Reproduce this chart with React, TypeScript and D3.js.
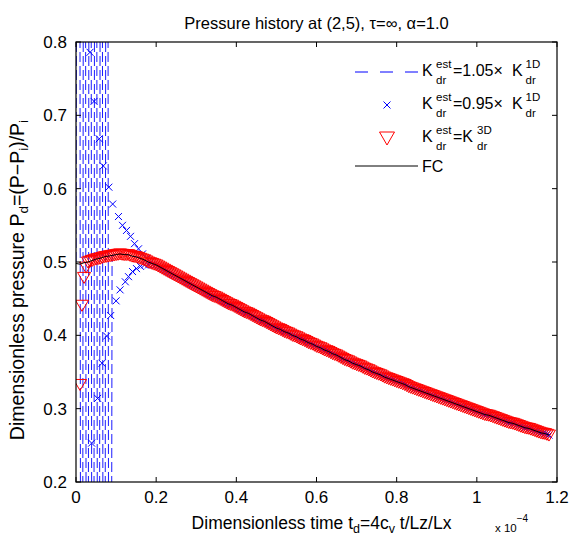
import * as React from "react";
import * as d3 from "d3";

// time grid step for the smooth part of every series (x 1e-4)
const curveStep = 0.005;

// FC solution at t = 0, 0.005, ... 1.18
const curveValues = [
  0.498, 0.4975, 0.497, 0.498, 0.499, 0.4995, 0.5, 0.501, 0.502, 0.503,
  0.504, 0.5045, 0.505, 0.506, 0.507, 0.5075, 0.508, 0.5085, 0.509, 0.5095,
  0.51, 0.5105, 0.511, 0.5105, 0.51, 0.51, 0.51, 0.509, 0.508, 0.5075,
  0.507, 0.506, 0.505, 0.504, 0.503, 0.5015, 0.5, 0.499, 0.498, 0.497,
  0.496, 0.4945, 0.493, 0.4915, 0.49, 0.4885, 0.487, 0.4855, 0.484, 0.4825,
  0.481, 0.4795, 0.478, 0.4765, 0.475, 0.4735, 0.472, 0.4705, 0.469, 0.4675,
  0.466, 0.4645, 0.463, 0.4615, 0.46, 0.4585, 0.457, 0.4555, 0.454, 0.453,
  0.452, 0.4505, 0.449, 0.4475, 0.446, 0.4445, 0.443, 0.442, 0.441, 0.4395,
  0.438, 0.4365, 0.435, 0.4335, 0.432, 0.431, 0.43, 0.4285, 0.427, 0.4255,
  0.424, 0.4225, 0.421, 0.42, 0.419, 0.4175, 0.416, 0.4145, 0.413, 0.4115,
  0.41, 0.409, 0.408, 0.4065, 0.405, 0.404, 0.403, 0.4015, 0.4, 0.399,
  0.398, 0.3965, 0.395, 0.394, 0.393, 0.3915, 0.39, 0.389, 0.388, 0.3865,
  0.385, 0.384, 0.383, 0.3815, 0.38, 0.379, 0.378, 0.3765, 0.375, 0.374,
  0.373, 0.3715, 0.37, 0.3685, 0.367, 0.366, 0.365, 0.3635, 0.362, 0.361,
  0.36, 0.359, 0.358, 0.3565, 0.355, 0.354, 0.353, 0.3515, 0.35, 0.349,
  0.348, 0.347, 0.346, 0.3445, 0.343, 0.342, 0.341, 0.34, 0.339, 0.338,
  0.337, 0.336, 0.335, 0.334, 0.333, 0.3315, 0.33, 0.329, 0.328, 0.327,
  0.326, 0.325, 0.324, 0.323, 0.322, 0.321, 0.32, 0.319, 0.318, 0.317,
  0.316, 0.315, 0.314, 0.313, 0.312, 0.311, 0.31, 0.309, 0.308, 0.307,
  0.306, 0.305, 0.304, 0.303, 0.302, 0.301, 0.3, 0.299, 0.298, 0.297,
  0.296, 0.295, 0.294, 0.293, 0.292, 0.2915, 0.291, 0.29, 0.289, 0.288,
  0.287, 0.286, 0.285, 0.284, 0.283, 0.282, 0.281, 0.2805, 0.28, 0.279,
  0.278, 0.277, 0.276, 0.275, 0.274, 0.2735, 0.273, 0.272, 0.271, 0.27,
  0.269, 0.268, 0.267, 0.2665, 0.266, 0.265, 0.264,
];

// K_est = 1.05 K_1D : unstable start, swings far outside the axes
const dashEarlyT = [0, 0.007, 0.014, 0.021, 0.028, 0.035, 0.042, 0.049, 0.056, 0.063, 0.07, 0.077, 0.084];
const dashEarlyV = [0.5, 2.6, -1.6, 2.6, -1.6, 2.6, -1.6, 2.6, -1.6, 2.6, -1.6, 2.6, -1.6];
const dashJoinIndex = 18;

// K_est = 0.95 K_1D : damped oscillation
const crossEarlyT = [
  0.035, 0.039, 0.045, 0.054, 0.058, 0.065, 0.068, 0.0765, 0.082, 0.0865,
  0.0915, 0.1, 0.106, 0.11, 0.116, 0.123, 0.126, 0.131, 0.136, 0.141,
  0.146, 0.151, 0.156, 0.161, 0.166, 0.171, 0.176, 0.181, 0.186, 0.191,
];
const crossEarlyV = [
  0.786, 0.253, 0.719, 0.314, 0.668, 0.362, 0.631, 0.399, 0.602, 0.427,
  0.579, 0.447, 0.562, 0.462, 0.55, 0.473, 0.543, 0.48, 0.535, 0.487,
  0.525, 0.491, 0.518, 0.494, 0.511, 0.496, 0.505, 0.496, 0.5, 0.496,
];
const crossJoinIndex = 40;

// K_est = K_3D
const triEarlyT = [0.01, 0.015, 0.02, 0.025];
const triEarlyV = [0.333, 0.441, 0.479, 0.493];
const triJoinIndex = 6;

const xTicks = [0, 0.2, 0.4, 0.6, 0.8, 1, 1.2];
const xTickLabels = ["0", "0.2", "0.4", "0.6", "0.8", "1", "1.2"];
const yTicks = [0.2, 0.3, 0.4, 0.5, 0.6, 0.7, 0.8];
const yTickLabels = ["0.2", "0.3", "0.4", "0.5", "0.6", "0.7", "0.8"];

const W = 571;
const H = 536;
const margin = { top: 42, right: 14, bottom: 54, left: 76 };
const font = "'Liberation Sans', Arial, Helvetica, sans-serif";

type Pt = [number, number];

const curvePts = (from: number): Pt[] =>
  curveValues.slice(from).map((v, i) => [(i + from) * curveStep, v]);

const zip = (t: number[], v: number[]): Pt[] => t.map((d, i) => [d, v[i]]);

const triPath = "M-6.5,-5L6.5,-5L0,6Z";
const crossPath = "M-3.5,-3.5L3.5,3.5M-3.5,3.5L3.5,-3.5";

function KLabel({ x, y, rhs }: { x: number; y: number; rhs: React.ReactNode }) {
  return (
    <g fontFamily={font} fontSize={16} fill="#000">
      <text x={x} y={y}>K</text>
      <text x={x + 14} y={y - 8} fontSize={11.5}>est</text>
      <text x={x + 14} y={y + 8} fontSize={11.5}>dr</text>
      {rhs}
    </g>
  );
}

export default function App() {
  const x = d3.scaleLinear().domain([0, 1.2]).range([margin.left, W - margin.right]);
  const y = d3.scaleLinear().domain([0.2, 0.8]).range([H - margin.bottom, margin.top]);
  const line = d3
    .line<Pt>()
    .x((d) => x(d[0]))
    .y((d) => y(d[1]));

  const fc = curvePts(0);
  const dashed = [...zip(dashEarlyT, dashEarlyV), ...curvePts(dashJoinIndex)];
  const crosses = [...zip(crossEarlyT, crossEarlyV), ...curvePts(crossJoinIndex)];
  const tris = [...zip(triEarlyT, triEarlyV), ...curvePts(triJoinIndex)];

  const [x0, x1] = x.range();
  const [y0, y1] = y.range();
  const cx = (x0 + x1) / 2;
  const cy = (y0 + y1) / 2;

  // legend
  const lx = 422;
  const rows = [72, 105, 138, 166];

  return (
    <svg
      width={W}
      height={H}
      style={{ position: "absolute", left: 0, top: 0, background: "#fff" }}
    >
      <defs>
        <clipPath id="plot">
          <rect x={x0} y={y1} width={x1 - x0} height={y0 - y1} />
        </clipPath>
      </defs>
      <rect width={W} height={H} fill="#fff" />

      <g clipPath="url(#plot)">
        <path d={line(dashed) ?? ""} fill="none" stroke="#0000ff" strokeWidth={0.9} strokeDasharray="10,4" />
        {crosses.map((d, i) => (
          <path key={"c" + i} d={crossPath} transform={`translate(${x(d[0])},${y(d[1])})`} fill="none" stroke="#0000ff" strokeWidth={1} />
        ))}
        {tris.map((d, i) => (
          <path key={"t" + i} d={triPath} transform={`translate(${x(d[0])},${y(d[1])})`} fill="none" stroke="#ff0000" strokeWidth={1} />
        ))}
        <path d={line(fc) ?? ""} fill="none" stroke="#000" strokeWidth={1} />
      </g>

      {/* frame and ticks */}
      <rect x={x0} y={y1} width={x1 - x0} height={y0 - y1} fill="none" stroke="#000" strokeWidth={1.2} />
      {xTicks.map((t, i) => (
        <g key={"xt" + i}>
          <line x1={x(t)} x2={x(t)} y1={y0} y2={y0 - 5} stroke="#000" />
          <line x1={x(t)} x2={x(t)} y1={y1} y2={y1 + 5} stroke="#000" />
          <text x={x(t)} y={y0 + 21} textAnchor="middle" fontFamily={font} fontSize={17}>
            {xTickLabels[i]}
          </text>
        </g>
      ))}
      {yTicks.map((t, i) => (
        <g key={"yt" + i}>
          <line x1={x0} x2={x0 + 5} y1={y(t)} y2={y(t)} stroke="#000" />
          <line x1={x1} x2={x1 - 5} y1={y(t)} y2={y(t)} stroke="#000" />
          <text x={x0 - 9} y={y(t) + 6} textAnchor="end" fontFamily={font} fontSize={17}>
            {yTickLabels[i]}
          </text>
        </g>
      ))}

      {/* title */}
      <text x={cx} y={29} textAnchor="middle" fontFamily={font} fontSize={16.5}>
        Pressure history at (2,5), τ=∞, α=1.0
      </text>

      {/* x label */}
      <text x={cx + 5} y={529} textAnchor="middle" fontFamily={font} fontSize={17.5}>
        Dimensionless time t
        <tspan fontSize={12.5} dy={4}>d</tspan>
        <tspan dy={-4}>=4c</tspan>
        <tspan fontSize={12.5} dy={4}>v</tspan>
        <tspan dy={-4}> t/Lz/Lx</tspan>
      </text>
      <text x={495} y={532} fontFamily={font} fontSize={11.5}>
        x 10
        <tspan fontSize={10} dy={-10}>−4</tspan>
      </text>

      {/* y label */}
      <text transform={`translate(24,${cy + 18}) rotate(-90)`} textAnchor="middle" fontFamily={font} fontSize={19.5}>
        Dimensionless pressure P
        <tspan fontSize={13.5} dy={4}>d</tspan>
        <tspan dy={-4}>=(P−P</tspan>
        <tspan fontSize={13.5} dy={4}>i</tspan>
        <tspan dy={-4}>)/P</tspan>
        <tspan fontSize={13.5} dy={4}>i</tspan>
      </text>

      {/* legend */}
      <g>
        <line x1={355} x2={418} y1={rows[0]} y2={rows[0]} stroke="#0000ff" strokeWidth={1} strokeDasharray="13,12" />
        <KLabel
          x={lx}
          y={rows[0] + 4}
          rhs={
            <>
              <text x={lx + 31} y={rows[0] + 4}>=1.05×</text>
              <text x={lx + 90} y={rows[0] + 4}>K</text>
              <text x={lx + 103.5} y={rows[0] - 4} fontSize={11.5}>1D</text>
              <text x={lx + 103.5} y={rows[0] + 12} fontSize={11.5}>dr</text>
            </>
          }
        />
        <path d={crossPath} transform={`translate(387,${rows[1]})`} fill="none" stroke="#0000ff" />
        <KLabel
          x={lx}
          y={rows[1] + 4}
          rhs={
            <>
              <text x={lx + 31} y={rows[1] + 4}>=0.95×</text>
              <text x={lx + 90} y={rows[1] + 4}>K</text>
              <text x={lx + 103.5} y={rows[1] - 4} fontSize={11.5}>1D</text>
              <text x={lx + 103.5} y={rows[1] + 12} fontSize={11.5}>dr</text>
            </>
          }
        />
        <path d="M-7.5,-6L7.5,-6L0,7Z" transform={`translate(387,${rows[2]})`} fill="none" stroke="#ff0000" />
        <KLabel
          x={lx}
          y={rows[2] + 4}
          rhs={
            <>
              <text x={lx + 31} y={rows[2] + 4}>=K</text>
              <text x={lx + 55} y={rows[2] - 4} fontSize={11.5}>3D</text>
              <text x={lx + 55} y={rows[2] + 12} fontSize={11.5}>dr</text>
            </>
          }
        />
        <line x1={355} x2={418} y1={rows[3]} y2={rows[3]} stroke="#000" strokeWidth={1} />
        <text x={lx} y={rows[3] + 6} fontFamily={font} fontSize={16}>FC</text>
      </g>
    </svg>
  );
}
